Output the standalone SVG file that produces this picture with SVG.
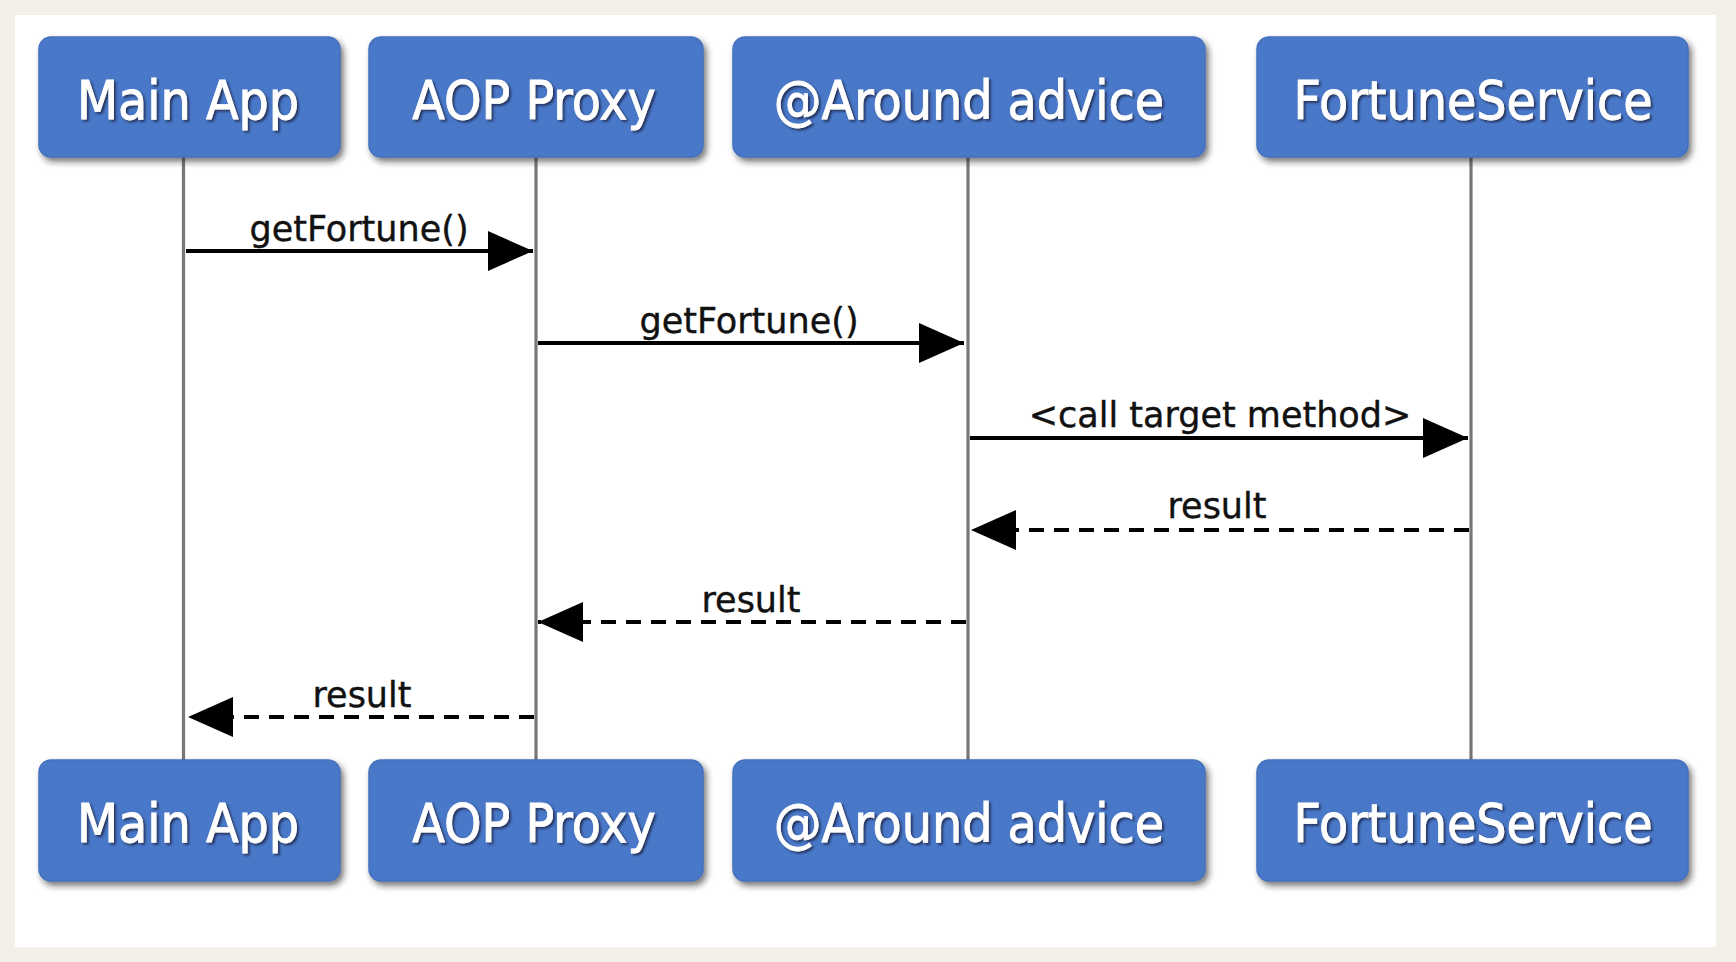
<svg xmlns="http://www.w3.org/2000/svg" width="1736" height="962" viewBox="0 0 1736 962">
<style>
.box{fill:#4a78c8;stroke:#4470be;stroke-width:1.5}
.bt{font-family:"DejaVu Sans Condensed","DejaVu Sans",sans-serif;font-stretch:condensed;font-size:53px;fill:#ffffff;stroke:#ffffff;stroke-width:0.8;text-anchor:middle}
.life{stroke:#777777;stroke-width:3.2;fill:none}
.msg{stroke:#000;stroke-width:4;fill:none}
.dash{stroke-dasharray:15 10}
.lbl{font-family:"DejaVu Sans",Verdana,sans-serif;font-size:35px;fill:#111;stroke:#111;stroke-width:0.4;text-anchor:middle}
</style>
<defs>
<filter id="bsh" x="-5%" y="-10%" width="115%" height="130%">
<feDropShadow dx="3" dy="4" stdDeviation="3" flood-color="#222" flood-opacity="0.6"/>
</filter>
<filter id="tsh" x="-5%" y="-20%" width="115%" height="150%">
<feDropShadow dx="2" dy="2" stdDeviation="1.2" flood-color="#1c2b50" flood-opacity="0.85"/>
</filter>
<marker id="ah" markerUnits="userSpaceOnUse" markerWidth="46" markerHeight="42" refX="45" refY="20" orient="auto" viewBox="0 0 46 42">
<path d="M0,0 L45,20 L0,40 z" fill="#000"/>
</marker>
</defs>
<rect x="0" y="0" width="1736" height="962" fill="#f2efe8"/>
<rect x="15" y="15" width="1701" height="932" fill="#ffffff"/>
<g id="lifelines">
<line class="life" x1="183.5" y1="157" x2="183.5" y2="760"/>
<line class="life" x1="536" y1="157" x2="536" y2="760"/>
<line class="life" x1="968" y1="157" x2="968" y2="760"/>
<line class="life" x1="1471" y1="157" x2="1471" y2="760"/>
</g>
<g id="node-mainapp-top">
<rect class="box" x="39" y="37" width="301" height="120" rx="12" filter="url(#bsh)"/>
<text class="bt" x="188" y="119" filter="url(#tsh)">Main App</text>
</g>
<g id="node-aopproxy-top">
<rect class="box" x="369" y="37" width="334" height="120" rx="12" filter="url(#bsh)"/>
<text class="bt" x="534" y="119" filter="url(#tsh)">AOP Proxy</text>
</g>
<g id="node-around-top">
<rect class="box" x="733" y="37" width="472" height="120" rx="12" filter="url(#bsh)"/>
<text class="bt" x="969" y="119" filter="url(#tsh)">@Around advice</text>
</g>
<g id="node-fortune-top">
<rect class="box" x="1257" y="37" width="431" height="120" rx="12" filter="url(#bsh)"/>
<text class="bt" x="1473" y="119" filter="url(#tsh)">FortuneService</text>
</g>
<g id="node-mainapp-bottom">
<rect class="box" x="39" y="760" width="301" height="121" rx="12" filter="url(#bsh)"/>
<text class="bt" x="188" y="842" filter="url(#tsh)">Main App</text>
</g>
<g id="node-aopproxy-bottom">
<rect class="box" x="369" y="760" width="334" height="121" rx="12" filter="url(#bsh)"/>
<text class="bt" x="534" y="842" filter="url(#tsh)">AOP Proxy</text>
</g>
<g id="node-around-bottom">
<rect class="box" x="733" y="760" width="472" height="121" rx="12" filter="url(#bsh)"/>
<text class="bt" x="969" y="842" filter="url(#tsh)">@Around advice</text>
</g>
<g id="node-fortune-bottom">
<rect class="box" x="1257" y="760" width="431" height="121" rx="12" filter="url(#bsh)"/>
<text class="bt" x="1473" y="842" filter="url(#tsh)">FortuneService</text>
</g>
<g id="connectors">
<line class="msg" x1="186" y1="251" x2="533" y2="251" marker-end="url(#ah)"/>
<line class="msg" x1="538" y1="343" x2="964" y2="343" marker-end="url(#ah)"/>
<line class="msg" x1="970" y1="438" x2="1468" y2="438" marker-end="url(#ah)"/>
<line class="msg dash" x1="1469" y1="530" x2="971" y2="530" marker-end="url(#ah)"/>
<line class="msg dash" x1="966" y1="622" x2="538" y2="622" marker-end="url(#ah)"/>
<line class="msg dash" x1="534" y1="717" x2="188" y2="717" marker-end="url(#ah)"/>
<text class="lbl" x="359" y="241">getFortune()</text>
<text class="lbl" x="749" y="333">getFortune()</text>
<text class="lbl" x="1220" y="427">&lt;call target method&gt;</text>
<text class="lbl" x="1217" y="518">result</text>
<text class="lbl" x="751" y="612">result</text>
<text class="lbl" x="362" y="707">result</text>
</g>
</svg>
